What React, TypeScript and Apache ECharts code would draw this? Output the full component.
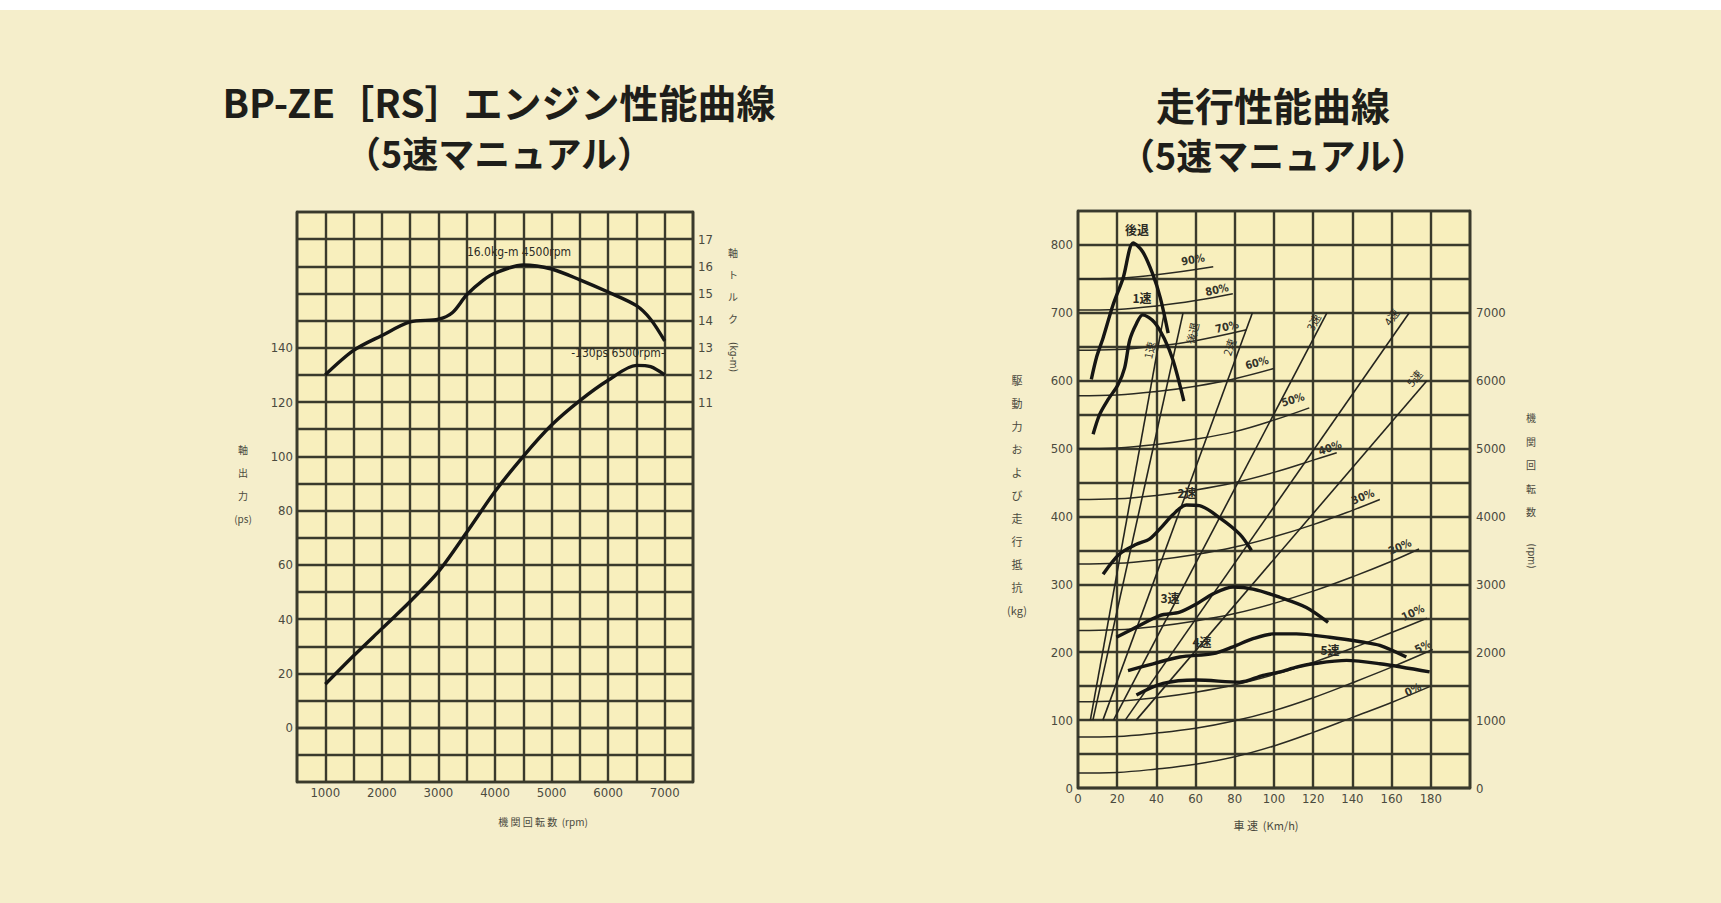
import React, { useEffect, useRef } from "react";
import * as echarts from "echarts";

// ---------- Left chart: engine performance ----------
const powerCurve: number[][] = [
  [1000, 16], [1500, 26.5], [2000, 36.5], [2500, 46.5], [3000, 57.5], [3500, 72],
  [4000, 87], [4500, 100], [5000, 111.5], [5500, 120.5], [6000, 128], [6500, 133.5],
  [6750, 133], [7000, 130],
];
const torqueCurve: number[][] = [
  [1000, 12.0], [1500, 12.9], [2000, 13.45], [2500, 13.95], [3000, 14.05], [3250, 14.3],
  [3500, 14.95], [3800, 15.5], [4000, 15.75], [4500, 16.05], [5000, 15.9], [5500, 15.5],
  [6000, 15.05], [6500, 14.55], [6750, 14.05], [7000, 13.25],
];
const leftXTicks = [1000, 2000, 3000, 4000, 5000, 6000, 7000];
const leftYTicks = [0, 20, 40, 60, 80, 100, 120, 140];
const torqueTicks = [11, 12, 13, 14, 15, 16, 17];

// ---------- Right chart: running performance ----------
const speedTicks = [0, 20, 40, 60, 80, 100, 120, 140, 160, 180];
const forceTicks = [0, 100, 200, 300, 400, 500, 600, 700, 800];
const rpmTicks = [0, 1000, 2000, 3000, 4000, 5000, 6000, 7000];

// running resistance (kg) by grade
const grade0 = [[0, 22], [20, 23], [40, 28], [60, 35], [80, 46], [100, 62], [120, 82], [140, 104], [160, 126], [180, 150]];
const grade5 = [[0, 75], [20, 76], [40, 81], [60, 88], [80, 99], [100, 114], [120, 133], [140, 155], [160, 178], [181, 204]];
const grade10 = [[0, 127], [20, 128], [40, 133], [60, 141], [80, 152], [100, 167], [120, 185], [140, 206], [160, 229], [178, 250]];
const grade20 = [[0, 232], [20, 233], [40, 238], [60, 246], [80, 257], [100, 272], [120, 290], [140, 311], [160, 334], [174, 352]];
const grade30 = [[0, 330], [20, 331], [40, 336], [60, 344], [80, 355], [100, 370], [120, 388], [140, 409], [154, 425]];
const grade40 = [[0, 425], [20, 426], [40, 431], [60, 439], [80, 450], [100, 465], [120, 483], [132, 494]];
const grade50 = [[0, 500], [20, 501], [40, 506], [60, 514], [80, 525], [100, 542], [118, 560]];
const grade60 = [[0, 578], [20, 579], [40, 584], [60, 592], [80, 603], [100, 618]];
const grade70 = [[0, 645], [20, 646], [40, 651], [60, 659], [86, 675]];
const grade80 = [[0, 704], [20, 705], [40, 710], [60, 718], [79, 728]];
const grade90 = [[0, 750], [20, 751], [40, 756], [69, 768]];
const gradeCurves = [grade0, grade5, grade10, grade20, grade30, grade40, grade50, grade60, grade70, grade80, grade90];
const gradeNames = ["0%", "5%", "10%", "20%", "30%", "40%", "50%", "60%", "70%", "80%", "90%"];

// engine speed (rpm) lines per gear
const rpmRev = [[6.3, 1000], [44, 7000]];
const rpm1st = [[7.6, 1000], [53.6, 7000]];
const rpm2nd = [[12.7, 1000], [89, 7000]];
const rpm3rd = [[18.1, 1000], [127, 7000]];
const rpm4th = [[24.1, 1000], [169, 7000]];
const rpm5th = [[29.7, 1000], [178, 6000]];
const rpmLines = [rpmRev, rpm1st, rpm2nd, rpm3rd, rpm4th, rpm5th];

// driving force (kg) per gear
const driveRev = [[6.8, 602], [9.5, 635], [12.8, 663], [17.9, 712], [23, 751], [28.2, 803], [33, 790], [38, 758], [42, 722], [46, 670]];
const drive1st = [[7.7, 521], [11, 550], [15.3, 572], [20.4, 594], [23.8, 619], [26.4, 660], [29.8, 684], [33, 697], [39, 686], [44, 662], [48.5, 630], [54, 570]];
const drive2nd = [[12.8, 315], [21.3, 345], [29.8, 359], [36.6, 367], [42.5, 384], [48.5, 403], [55.3, 417], [62, 416], [72.3, 398], [82.5, 374], [88.5, 350]];
const drive3rd = [[19.6, 222], [29.8, 237], [41.7, 254], [51.9, 259], [60.4, 271], [68.9, 286], [79.1, 296], [89.3, 293], [102.9, 281], [116.5, 266], [127.6, 244]];
const drive4th = [[25.5, 173], [38.3, 183], [51.9, 193], [68.9, 198], [79.1, 208], [89.3, 220], [99.5, 227], [111.4, 227], [128.4, 222], [145, 215], [154, 210], [167.5, 193]];
const drive5th = [[29.8, 137], [43.4, 154], [60.4, 159], [82.5, 156], [94.4, 166], [103, 171], [111.4, 178], [120, 183], [137, 188], [154, 183], [179.4, 171]];
const driveCurves = [driveRev, drive1st, drive2nd, drive3rd, drive4th, drive5th];
const gearNames = ["後退", "1速", "2速", "3速", "4速", "5速"];

// ---------- styling ----------
const PAGE_BG = "#f5eecb";
const GRID_BG = "#f8efbd";
const GRID_LINE = "#3a3a2c";
const INK = "#161614";
const LABEL = "#4a4a3e";
const NARROW = "'Liberation Sans Narrow', 'DejaVu Sans Condensed', 'Liberation Sans', sans-serif";
const JP = "'Noto Sans CJK JP', 'Noto Sans', sans-serif";

const gridLine = { show: true, lineStyle: { color: GRID_LINE, width: 2.4 } };
const axisLab = (formatter: (v: number) => string, margin: number) => ({
  formatter, margin, fontSize: 13, color: LABEL, fontFamily: NARROW,
});

function txt(text: string, x: number, y: number, size: number, opts: any = {}) {
  return {
    type: "text",
    x, y,
    rotation: opts.rot ? (opts.rot * Math.PI) / 180 : 0,
    z: 100,
    silent: true,
    style: {
      text,
      fill: opts.color || "#2b2b24",
      fontSize: size,
      fontFamily: opts.font || JP,
      fontWeight: opts.weight || "normal",
      align: opts.align || "center",
      verticalAlign: opts.valign || "middle",
      lineHeight: opts.lh,
    },
  };
}

function buildOption() {
  const series: any[] = [];
  series.push({
    type: "line", name: "軸出力", data: powerCurve, xAxisIndex: 0, yAxisIndex: 0,
    showSymbol: false, symbol: "none", smooth: 0.3,
    lineStyle: { color: INK, width: 3.4 }, z: 5,
  });
  series.push({
    type: "line", name: "軸トルク", data: torqueCurve, xAxisIndex: 0, yAxisIndex: 1,
    showSymbol: false, symbol: "none", smooth: 0.3,
    lineStyle: { color: INK, width: 3.4 }, z: 5,
  });
  gradeCurves.forEach((d, i) =>
    series.push({
      type: "line", name: "走行抵抗 " + gradeNames[i], data: d, xAxisIndex: 1, yAxisIndex: 2,
      showSymbol: false, symbol: "none", smooth: 0.4,
      lineStyle: { color: "#2a2a22", width: 1.5 }, z: 3,
    })
  );
  rpmLines.forEach((d, i) =>
    series.push({
      type: "line", name: "機関回転数 " + gearNames[i], data: d, xAxisIndex: 1, yAxisIndex: 3,
      showSymbol: false, symbol: "none",
      lineStyle: { color: "#24241e", width: 1.6 }, z: 3,
    })
  );
  driveCurves.forEach((d, i) =>
    series.push({
      type: "line", name: "駆動力 " + gearNames[i], data: d, xAxisIndex: 1, yAxisIndex: 2,
      showSymbol: false, symbol: "none", smooth: 0.3,
      lineStyle: { color: INK, width: 3.4 }, z: 5,
    })
  );

  const texts: any[] = [
    { type: "rect", shape: { x: 0, y: 0, width: 1721, height: 10 }, style: { fill: "#ffffff" }, z: 1, silent: true },
    // titles
    txt("BP-ZE［RS］エンジン性能曲線", 499, 101, 39, { weight: "bold", color: "#1e1e1a" }),
    txt("（5速マニュアル）", 499, 152, 36, { weight: "bold", color: "#1e1e1a" }),
    txt("走行性能曲線", 1273, 104, 39, { weight: "bold", color: "#1e1e1a" }),
    txt("（5速マニュアル）", 1273, 154, 36, { weight: "bold", color: "#1e1e1a" }),
    // left chart axis titles
    txt("軸\n出\n力\n(ps)", 243, 438, 10, { valign: "top", lh: 23, color: LABEL }),
    txt("軸\nト\nル\nク", 733, 241, 10, { valign: "top", lh: 22, color: LABEL }),
    txt("(kg-m)", 733, 357, 10, { rot: -90, color: LABEL, font: NARROW }),
    txt("機 関 回 転 数  (rpm)", 543, 821, 10, { color: LABEL }),
    // left chart annotations
    txt("16.0kg-m 4500rpm", 519, 252, 12, { font: NARROW, color: "#2b2b24" }),
    txt("-130ps 6500rpm-", 618, 353, 12, { font: NARROW, color: "#2b2b24" }),
    // right chart axis titles
    txt("駆\n動\n力\nお\nよ\nび\n走\n行\n抵\n抗\n(kg)", 1017, 368, 11, { valign: "top", lh: 23, color: LABEL }),
    txt("機\n関\n回\n転\n数", 1531, 406, 10, { valign: "top", lh: 23.5, color: LABEL }),
    txt("(rpm)", 1531, 556, 10, { rot: -90, color: LABEL, font: NARROW }),
    txt("車 速  (Km/h)", 1266, 825, 11, { color: LABEL }),
    // driving force labels
    txt(gearNames[0], 1137, 229, 12, { weight: "bold" }),
    txt(gearNames[1], 1142, 297, 12, { weight: "bold" }),
    txt(gearNames[2], 1187, 492, 12, { weight: "bold" }),
    txt(gearNames[3], 1170, 597, 12, { weight: "bold" }),
    txt(gearNames[4], 1202, 641, 12, { weight: "bold" }),
    txt(gearNames[5], 1330, 649, 12, { weight: "bold" }),
    // rpm line labels
    txt(gearNames[0], 1192, 333, 11, { rot: 77 }),
    txt(gearNames[1], 1149, 350, 11, { rot: 78 }),
    txt(gearNames[2], 1229, 347, 11, { rot: 70 }),
    txt(gearNames[3], 1313, 322, 11, { rot: 62 }),
    txt(gearNames[4], 1391, 317, 11, { rot: 55 }),
    txt(gearNames[5], 1414, 378, 11, { rot: 50 }),
  ];
  const gradePos = [
    [1413, 690, 26], [1423, 647, 26], [1413, 613, 25], [1400, 547, 24], [1363, 497, 22],
    [1330, 448, 19], [1293, 400, 17], [1257, 363, 15], [1227, 327, 13], [1217, 290, 12], [1193, 260, 10],
  ];
  gradeNames.forEach((g, i) => {
    const p = gradePos[i];
    texts.push(txt(g, p[0], p[1], 11, { rot: p[2], font: NARROW, weight: "bold", color: "#33332a" }));
  });

  const axisLine = { show: true, lineStyle: { color: GRID_LINE, width: 2.4 } };
  return {
    animation: false,
    backgroundColor: PAGE_BG,
    grid: [
      { left: 297, top: 212, width: 396, height: 570, show: true, backgroundColor: GRID_BG, borderColor: GRID_LINE, borderWidth: 2.4 },
      { left: 1078, top: 211, width: 392, height: 577, show: true, backgroundColor: GRID_BG, borderColor: GRID_LINE, borderWidth: 2.4 },
    ],
    xAxis: [
      {
        type: "value", gridIndex: 0, min: 500, max: 7500, interval: 500,
        axisLine, axisTick: { show: false }, splitLine: gridLine,
        axisLabel: axisLab((v) => (leftXTicks.includes(v) ? String(v) : ""), 4),
      },
      {
        type: "value", gridIndex: 1, min: 0, max: 200, interval: 20,
        axisLine, axisTick: { show: false }, splitLine: gridLine,
        axisLabel: axisLab((v) => (speedTicks.includes(v) ? String(v) : ""), 4),
      },
    ],
    yAxis: [
      {
        type: "value", gridIndex: 0, min: -20, max: 190, interval: 10, position: "left",
        axisLine, axisTick: { show: false }, splitLine: gridLine,
        axisLabel: axisLab((v) => (leftYTicks.includes(v) ? String(v) : ""), 4),
      },
      {
        type: "value", gridIndex: 0, min: -3, max: 18, interval: 1, position: "right",
        axisLine, axisTick: { show: false }, splitLine: { show: false },
        axisLabel: axisLab((v) => (torqueTicks.includes(v) ? String(v) : ""), 5),
      },
      {
        type: "value", gridIndex: 1, min: 0, max: 850, interval: 50, position: "left",
        axisLine, axisTick: { show: false }, splitLine: gridLine,
        axisLabel: axisLab((v) => (forceTicks.includes(v) ? String(v) : ""), 5),
      },
      {
        type: "value", gridIndex: 1, min: 0, max: 8500, interval: 500, position: "right",
        axisLine, axisTick: { show: false }, splitLine: { show: false },
        axisLabel: axisLab((v) => (rpmTicks.includes(v) ? String(v) : ""), 6),
      },
    ],
    series,
    graphic: { elements: texts },
  };
}

export default function App() {
  const ref = useRef<HTMLDivElement>(null);
  useEffect(() => {
    if (!ref.current) return;
    const chart = echarts.init(ref.current, null, { renderer: "svg" });
    chart.setOption(buildOption() as any);
    return () => chart.dispose();
  }, []);
  return (
    <div
      ref={ref}
      style={{ position: "fixed", left: 0, top: 0, width: 1721, height: 903 }}
    />
  );
}
